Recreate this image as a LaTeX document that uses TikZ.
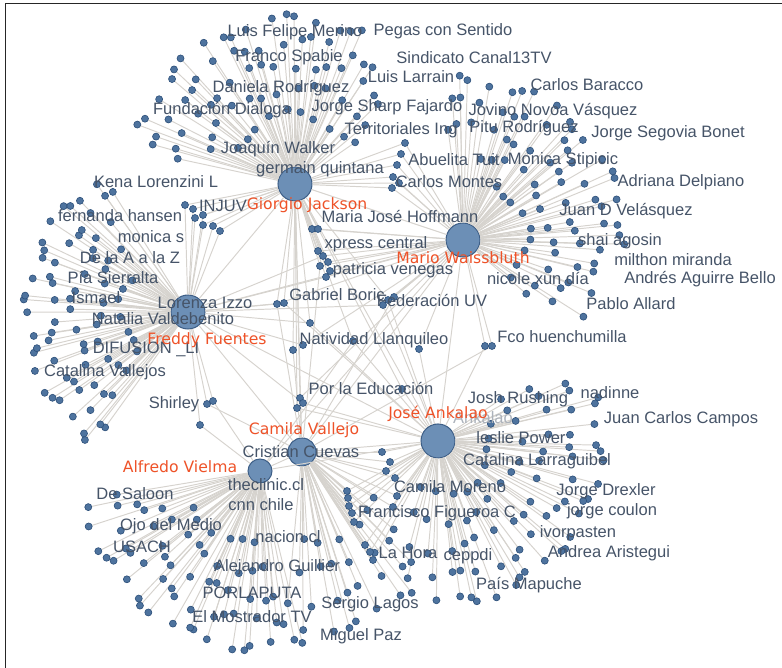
\documentclass[tikz,border=0pt]{standalone}
\usepackage{fontspec}
\setmainfont{Liberation Sans}
\newfontfamily\hubfont{DejaVu Sans}
\usetikzlibrary{calc}

\definecolor{hubblue}{RGB}{108,143,182}
\definecolor{hubline}{RGB}{62,95,135}
\definecolor{dotblue}{RGB}{78,115,158}
\definecolor{dotline}{RGB}{45,80,122}
\definecolor{edgegray}{RGB}{214,211,206}
\definecolor{lblgray}{RGB}{70,84,104}
\definecolor{hubred}{RGB}{238,82,40}

\tikzset{
  hub/.style={circle, fill=hubblue, draw=hubline, line width=0.6pt, inner sep=0pt, minimum size=#1},
  leaf/.style={circle, fill=dotblue, draw=dotline, line width=0.35pt, inner sep=0pt, minimum size=4pt},
  link/.style={draw=edgegray, line width=0.55pt},
  lbl/.style={text=lblgray, font=\fontsize{9.4}{10}\selectfont, inner sep=0pt},
  hublbl/.style={text=hubred, font=\hubfont\fontsize{8.9}{10}\selectfont, inner sep=0pt},
  frame/.style={draw=black!85, line width=1.1pt}
}

% hub / radius / first angle / last angle / step
\def\fans{
  G/165/-160/-60/6, G/143/-166/-52/7, G/120/-170/-40/8, G/96/-160/-35/10, G/70/-150/-30/13,
  M/160/-92/8/6, M/138/-96/30/7, M/113/-100/40/8, M/88/-80/45/10, M/64/-60/40/12,
  L/160/128/234/5, L/138/124/238/6, L/114/130/232/7, L/90/134/228/9, L/66/140/222/12,
  A/176/76/170/5, A/150/80/174/6, A/125/82/170/7, A/100/86/164/9, A/75/92/160/12,
  C/178/52/92/6, C/150/44/96/7, C/120/38/100/9, C/90/30/100/12,
  J/162/-16/92/5, J/136/-26/102/7, J/108/-32/108/9, J/80/-36/114/12, J/54/-20/110/16}

% leaves tied to several hubs
\def\shared{
  277/304/{G,L,M,C}, 284/303/{G,L,J}, 310/323/{G,L,J}, 293/350/{G,C}, 303/345/{L,M},
  353/341/{G,J,A}, 300/398/{G,M,C}, 303/403/{L,J}, 297/408/{G,J}, 207/404/{L,C},
  213/401/{L,A}, 200/425/{L,A}, 312/229/{G,M}, 318/229/{G,M}, 318/251/{G,M},
  323/256/{G,M,L}, 328/262/{G,M}, 320/266/{G,M,C}, 330/271/{G,M}, 326/277/{G,M,L},
  185/205/{G,L}, 193/209/{G,L}, 195/218/{G,L}, 203/225/{G,L}, 213/226/{G,L},
  220/231/{G,L}, 203/215/{G,L}, 383/305/{M,L,J}, 388/300/{M,G,J}, 394/297/{M,C},
  485/346/{M,J}, 492/346/{M,C}, 419/349/{M,J}, 402/389/{G,J}, 405/143/{G,M},
  401/154/{G,M}, 397/165/{G,M}, 393/177/{G,M}, 399/183/{G,M}, 392/188/{G,M},
  347/491/{C,J}, 348/498/{C,J}, 349/506/{C,J}, 352/513/{C,J}, 354/522/{C,J},
  365/545/{C,J}, 370/552/{C,J}, 373/560/{C,J}, 382/452/{C,J}, 390/462/{C,J},
  386/471/{C,J}, 395/478/{C,J}, 397/496/{C,J}, 393/507/{C,J}}

\begin{document}
\begin{tikzpicture}[x=0.02cm,y=-0.02cm]
\useasboundingbox (0,0) rectangle (782,668);
\draw[frame] (5.5,668) -- (5.5,3.5) -- (782,3.5);

% the hubs
\node[hub=0.68cm] (G) at (295,184) {};
\node[hub=0.68cm] (M) at (463,240) {};
\node[hub=0.68cm] (L) at (188,312) {};
\node[hub=0.56cm] (C) at (302,452) {};
\node[hub=0.48cm] (A) at (260,471) {};
\node[hub=0.68cm] (J) at (438,441) {};

% hub to hub
\foreach \p/\q in {G/M,G/L,L/M,C/J,G/C,M/J,L/C,A/C,L/J,G/J,A/J,M/C,A/M}
  \draw[link] (\p) -- (\q);

% spokes first
\foreach \h/\r/\a/\b/\s in \fans {
  \pgfmathtruncatemacro\n{(\b-\a)/\s}
  \foreach \k in {0,...,\n} {
    \pgfmathsetmacro\ang{\a+\k*\s+2.5*sin(\k*97+\r)}
    \pgfmathsetmacro\rad{\r+5*sin(\k*61+\r*3)}
    \coordinate (\h-\r-\k) at ($(\h)+(\ang:\rad)$);
    \draw[link] (\h) -- (\h-\r-\k);
  }
}
\foreach \x/\y/\hs [count=\i] in \shared {
  \coordinate (s\i) at (\x,\y);
  \foreach \h in \hs
    \draw[link] (\h) -- (s\i);
}

% then the dots
\foreach \h/\r/\a/\b/\s in \fans {
  \pgfmathtruncatemacro\n{(\b-\a)/\s}
  \foreach \k in {0,...,\n}
    \node[leaf] (d\h-\r-\k) at (\h-\r-\k) {};
}
\foreach \x/\y/\hs [count=\i] in \shared
  \node[leaf] (ds\i) at (s\i) {};

% names of accounts
\node[lbl] (merino) at (295,32) {Luis Felipe Merino};
\node[lbl] (pegas) at (443,31) {Pegas con Sentido};
\node[lbl] (spabie) at (289,57) {Franco Spabie};
\node[lbl] (sindicato) at (474,58) {Sindicato Canal13TV};
\node[lbl] (larrain) at (411,77) {Luis Larrain};
\node[lbl] (daniela) at (281,88) {Daniela Rodríguez};
\node[lbl] (sharp) at (387,107) {Jorge Sharp Fajardo};
\node[lbl] (dialoga) at (222,110) {Fundación Dialoga};
\node[lbl] (territ) at (401,130) {Territoriales Ing};
\node[lbl] (walker) at (278,149) {Joaquín Walker};
\node[lbl] (germain) at (320,169) {germain quintana};
\node[lbl] (kena) at (156,182) {Kena Lorenzini L};
\node[lbl] (injuv) at (223,206) {INJUV};
\node[lbl] (fernanda) at (120,216) {fernanda hansen};
\node[lbl] (monica) at (151,237) {monica s};
\node[lbl] (delaa) at (130,258) {De la A a la Z};
\node[lbl] (pia) at (113,278) {Pía Sierralta};
\node[lbl] (ismael) at (96,298) {Ismael};
\node[lbl] (izzo) at (205,303) {Lorenza Izzo};
\node[lbl] (natalia) at (163,319) {Natalia Valdebenito};
\node[lbl] (difusion) at (146,349) {DIFUSION \_LI};
\node[lbl] (catvallejos) at (105,372) {Catalina Vallejos};
\node[lbl] (shirley) at (174,404) {Shirley};
\node[lbl] (hoffmann) at (400,217) {Maria José Hoffmann};
\node[lbl] (xpress) at (376,244) {xpress central};
\node[lbl] (patricia) at (393,270) {patricia venegas};
\node[lbl] (boric) at (337,295) {Gabriel Boric};
\node[lbl] (feduv) at (432,301) {Federación UV};
\node[lbl] (natividad) at (374,340) {Natividad Llanquileo};
\node[lbl] (fco) at (562,337) {Fco huenchumilla};
\node[lbl] (educacion) at (371,389) {Por la Educación};
\node[lbl] (baracco) at (587,85) {Carlos Baracco};
\node[lbl] (novoa) at (553,111) {Jovino Novoa Vásquez};
\node[lbl] (pitu) at (524,128) {Pitu Rodríguez};
\node[lbl] (segovia) at (668,133) {Jorge Segovia Bonet};
\node[lbl] (abuelita) at (454,160) {Abuelita Tuit};
\node[lbl] (stipicic) at (563,160) {Monica Stipicic};
\node[lbl] (montes) at (449,182) {Carlos Montes};
\node[lbl] (delpiano) at (681,182) {Adriana Delpiano};
\node[lbl] (velasquez) at (626,211) {Juan D Velásquez};
\node[lbl] (shai) at (620,241) {shai agosin};
\node[lbl] (milthon) at (673,260) {milthon miranda};
\node[lbl] (aguirre) at (700,279) {Andrés Aguirre Bello};
\node[lbl] (nicole) at (538,279) {nicole xun día};
\node[lbl] (allard) at (631,304) {Pablo Allard};
\node[lbl] (rushing) at (518,399) {Josh Rushing};
\node[lbl] (nadinne) at (610,393) {nadinne};
\node[lbl, text=lblgray!45] (ankalao) at (483,418) {Ankalao};
\node[lbl] (campos) at (681,419) {Juan Carlos Campos};
\node[lbl] (leslie) at (521,438) {leslie Power};
\node[lbl] (larraguibel) at (537,461) {Catalina Larraguibel};
\node[lbl] (moreno) at (450,487) {Camila Moreno};
\node[lbl] (drexler) at (606,491) {Jorge Drexler};
\node[lbl] (figueroa) at (437,513) {Francisco Figueroa C};
\node[lbl] (coulon) at (612,511) {jorge coulon};
\node[lbl] (ivor) at (578,533) {ivorpasten};
\node[lbl] (aristegui) at (609,553) {Andrea Aristegui};
\node[lbl] (lahora) at (408,553) {La Hora};
\node[lbl] (ceppdi) at (468,556) {ceppdi};
\node[lbl] (mapuche) at (529,585) {País Mapuche};
\node[lbl] (cuevas) at (301,452) {Cristian Cuevas};
\node[lbl] (clinic) at (266,485) {theclinic.cl};
\node[lbl] (cnn) at (261,505) {cnn chile};
\node[lbl] (saloon) at (135,494) {De Saloon};
\node[lbl] (ojo) at (171,526) {Ojo del Medio};
\node[lbl] (usach) at (142,547) {USACH};
\node[lbl] (nacion) at (288,537) {nacion.cl};
\node[lbl] (guillier) at (277,567) {Alejandro Guillier};
\node[lbl] (porlaputa) at (252,593) {PORLAPUTA};
\node[lbl] (mostrador) at (252,617) {El Mostrador TV};
\node[lbl] (lagos) at (370,604) {Sergio Lagos};
\node[lbl] (paz) at (361,636) {Miguel Paz};

% names of the hubs
\node[hublbl] (jackson) at (307,205) {Giorgio Jackson};
\node[hublbl] (waissbluth) at (463,258) {Mario Waissbluth};
\node[hublbl] (fuentes) at (207,340) {Freddy Fuentes};
\node[hublbl] (vallejo) at (304,430) {Camila Vallejo};
\node[hublbl] (vielma) at (180,467) {Alfredo Vielma};
\node[hublbl] (jose) at (438,414) {José Ankalao};
\end{tikzpicture}
\end{document}
